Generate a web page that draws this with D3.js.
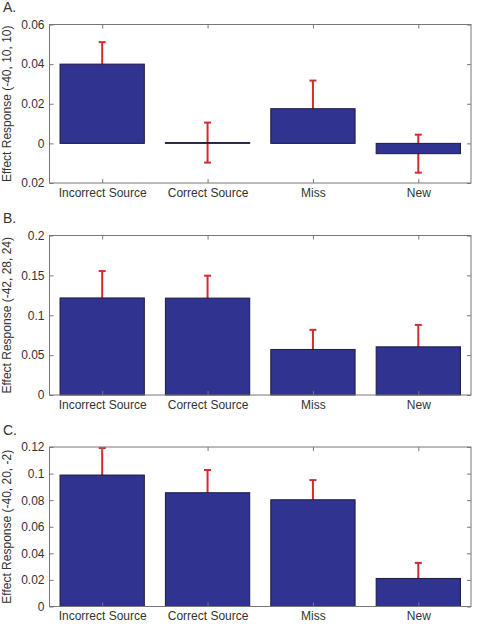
<!DOCTYPE html>
<html>
<head>
<meta charset="utf-8">
<script src="https://cdn.jsdelivr.net/npm/d3@7"></script>
<style>
  body { margin: 0; background: #fff; }
  text { font-family: "Liberation Sans", Arial, Helvetica, sans-serif; fill: #333; }
</style>
</head>
<body>
<div id="chart"></div>
<script>
const categories = ["Incorrect Source", "Correct Source", "Miss", "New"];

const valuesA = [0.0400, 0.0004, 0.0175, -0.0052];
const errorsA = [0.0111, 0.0101, 0.0142, 0.0096];
const ticksA = [-0.02, 0, 0.02, 0.04, 0.06];
const tickLabelsA = ["0.02", "0", "0.02", "0.04", "0.06"];

const valuesB = [0.1217, 0.1215, 0.0571, 0.0604];
const errorsB = [0.0337, 0.0281, 0.0246, 0.0275];
const ticksB = [0, 0.05, 0.1, 0.15, 0.2];
const tickLabelsB = ["0", "0.05", "0.1", "0.15", "0.2"];

const valuesC = [0.0989, 0.0856, 0.0803, 0.0211];
const errorsC = [0.0203, 0.0171, 0.0148, 0.0117];
const ticksC = [0, 0.02, 0.04, 0.06, 0.08, 0.1, 0.12];
const tickLabelsC = ["0", "0.02", "0.04", "0.06", "0.08", "0.1", "0.12"];

const panels = [
    {letter: "A.", title: "Effect Response (-40, 10, 10)", values: valuesA, errors: errorsA,
     ticks: ticksA, tickLabels: tickLabelsA, domain: [-0.02, 0.06], top: 24.5, bottom: 183},
    {letter: "B.", title: "Effect Response (-42, 28, 24)", values: valuesB, errors: errorsB,
     ticks: ticksB, tickLabels: tickLabelsB, domain: [0, 0.2], top: 235.5, bottom: 395},
    {letter: "C.", title: "Effect Response (-40, 20, -2)", values: valuesC, errors: errorsC,
     ticks: ticksC, tickLabels: tickLabelsC, domain: [0, 0.12], top: 447, bottom: 606.5}
];

const width = 478, height = 626;
const left = 49.5, right = 471;

const svg = d3.select("#chart")
    .append("svg")
    .attr("width", width)
    .attr("height", height);

const x = d3.scaleLinear().domain([0.5, 4.5]).range([left, right]);
const barWidth = 0.8;

panels.forEach(p => {
    const y = d3.scaleLinear().domain(p.domain).range([p.bottom, p.top]);
    const g = svg.append("g");

    // error bars first, bars drawn over them
    const errG = g.append("g");
    p.values.forEach((v, i) => {
        const cx = x(i + 1);
        const y1 = y(v + p.errors[i]), y2 = y(v - p.errors[i]);
        errG.append("line")
            .attr("x1", cx).attr("x2", cx)
            .attr("y1", y1).attr("y2", y2)
            .attr("stroke", "#d42b2e").attr("stroke-width", 2);
        [y1, y2].forEach(yy => {
            errG.append("line")
                .attr("x1", cx - 3.5).attr("x2", cx + 3.5)
                .attr("y1", yy).attr("y2", yy)
                .attr("stroke", "#d42b2e").attr("stroke-width", 2);
        });
    });

    g.append("g").selectAll("rect")
        .data(p.values)
        .enter()
        .append("rect")
        .attr("x", (d, i) => x(i + 1 - barWidth / 2))
        .attr("width", x(1 + barWidth) - x(1))
        .attr("y", d => y(Math.max(d, 0)))
        .attr("height", d => Math.abs(y(d) - y(0)))
        .attr("fill", "#30338f")
        .attr("stroke", "#1c1c3a")
        .attr("stroke-width", 1);

    // box
    g.append("rect")
        .attr("x", left).attr("y", p.top)
        .attr("width", right - left).attr("height", p.bottom - p.top)
        .attr("fill", "none").attr("stroke", "#777").attr("stroke-width", 1);

    const yAxis = g.append("g")
        .attr("transform", `translate(${left},0)`)
        .call(d3.axisLeft(y).tickValues(p.ticks)
            .tickFormat((d, i) => p.tickLabels[i])
            .tickSizeInner(-4).tickSizeOuter(0).tickPadding(5));
    const yAxisR = g.append("g")
        .attr("transform", `translate(${right},0)`)
        .call(d3.axisRight(y).tickValues(p.ticks).tickFormat("")
            .tickSizeInner(-4).tickSizeOuter(0));
    const xAxis = g.append("g")
        .attr("transform", `translate(0,${p.bottom})`)
        .call(d3.axisBottom(x).tickValues([1, 2, 3, 4])
            .tickFormat((d, i) => categories[i])
            .tickSizeInner(-4).tickSizeOuter(0).tickPadding(5));
    const xAxisT = g.append("g")
        .attr("transform", `translate(0,${p.top})`)
        .call(d3.axisTop(x).tickValues([1, 2, 3, 4]).tickFormat("")
            .tickSizeInner(-4).tickSizeOuter(0));

    [yAxis, yAxisR, xAxis, xAxisT].forEach(a => {
        a.select(".domain").remove();
        a.selectAll(".tick line").attr("stroke", "#777");
        a.selectAll(".tick text")
            .attr("font-size", "12px")
            .attr("font-family", "Liberation Sans, Arial, sans-serif")
            .attr("fill", "#333");
    });

    g.append("text")
        .attr("transform", `translate(10.5,${(p.top + p.bottom) / 2}) rotate(-90)`)
        .attr("text-anchor", "middle")
        .attr("font-size", "12px")
        .text(p.title);

    g.append("text")
        .attr("x", 3)
        .attr("y", p.top - 12.5)
        .attr("font-size", "14px")
        .text(p.letter);
});
</script>
</body>
</html>
